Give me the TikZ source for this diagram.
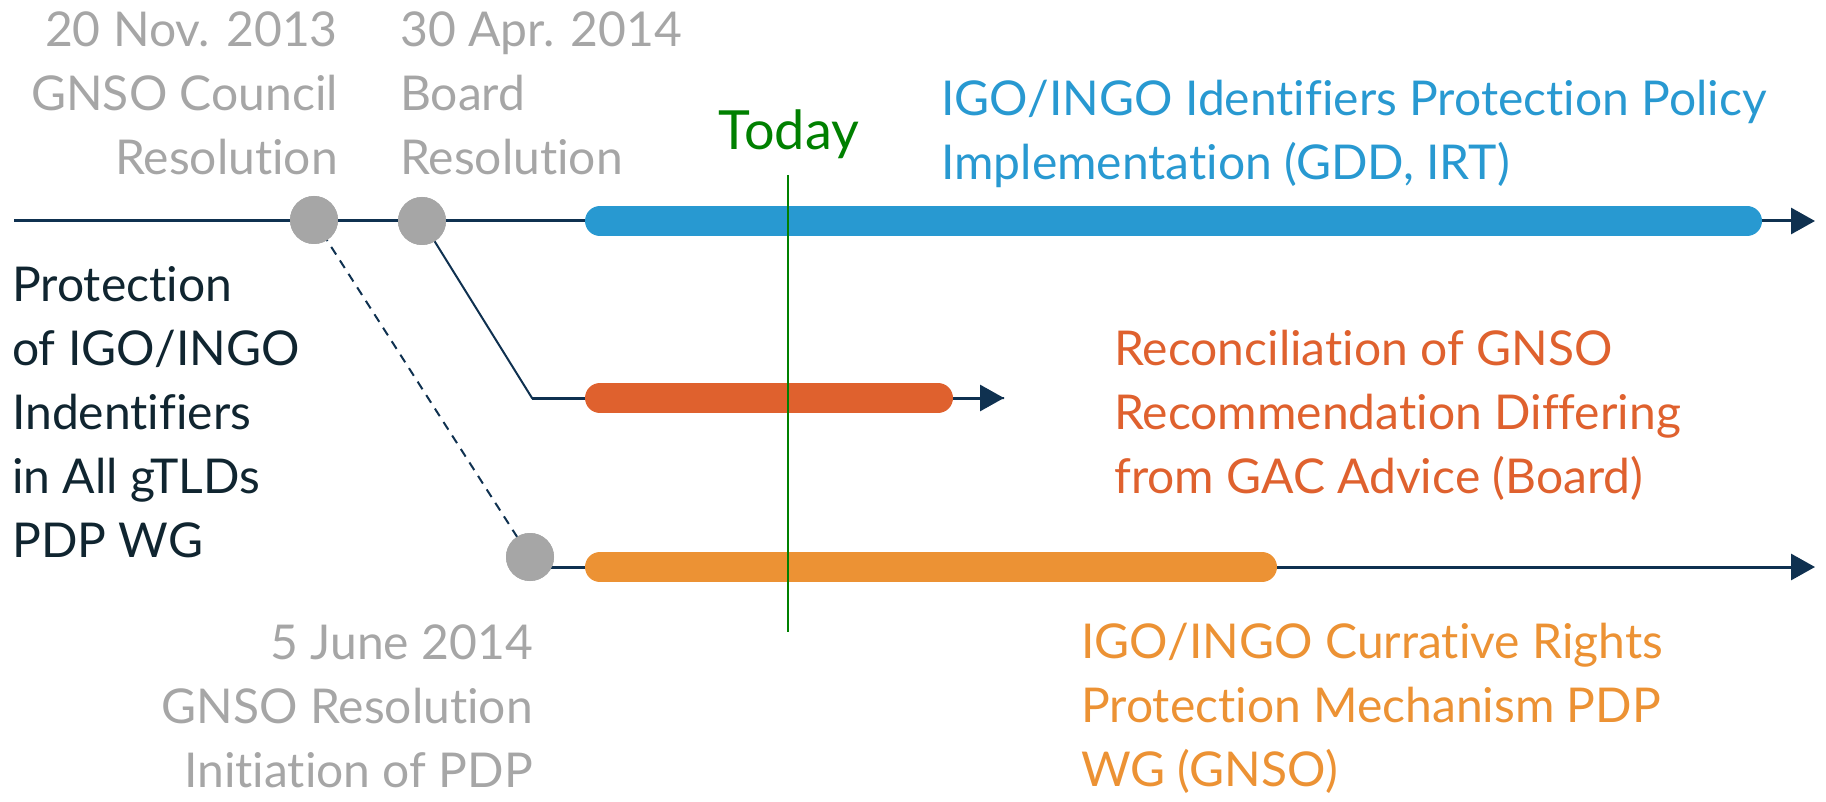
\documentclass[tikz,border=0pt]{standalone}
\usepackage{fontspec}
\setmainfont{Lato}[Ligatures=NoCommon]
\usepackage{tikz}
\usetikzlibrary{arrows.meta}

\definecolor{navy}{HTML}{0F3150}
\definecolor{msgray}{HTML}{A6A6A6}
\definecolor{implblue}{HTML}{2899D1}
\definecolor{recred}{HTML}{DF612E}
\definecolor{crporange}{HTML}{EC9234}
\definecolor{todaygreen}{HTML}{008000}
\definecolor{wgblack}{HTML}{102530}

\tikzset{
  tline/.style={line width=3pt, color=navy},
  tarrow/.style={tline, -{Triangle[length=24pt,width=26pt]}},
  bar/.style={line width=30pt, line cap=round},
  milestone/.style={circle, fill=msgray, minimum size=48pt, inner sep=0pt},
  lbl/.style={inner sep=0pt, font=\fontsize{48}{64}\selectfont},
}

\begin{document}
\begin{tikzpicture}[x=1pt,y=-1pt]
    \useasboundingbox (0,0) rectangle (1826,802);
    % timeline points
    \coordinate (start) at (14,221);
    \coordinate (mainend) at (1815,221);
    \coordinate (bend) at (532,398);
    \coordinate (boardend) at (1004,398);
    \coordinate (crpend) at (1815,567);
    \coordinate (todaytop) at (788,175);
    \coordinate (todaybot) at (788,632);
    \node[milestone] (nov) at (314,220) {};
    \node[milestone] (apr) at (422,221) {};
    \node[milestone] (jun) at (530,557) {};
    % connectors
    \draw[tarrow] (start) -- (mainend);
    \draw[tline, line width=2pt] (apr.center) -- (bend) -- (boardend);
    \draw[tarrow] (bend) -- (boardend);
    \draw[tline, line width=2pt, dashed, dash pattern=on 9pt off 7pt] (nov.center) -- (jun.center);
    \draw[tarrow] (jun |- crpend) -- (crpend);
    % bars
    \draw[bar, implblue] (600,221) -- (1747,221);
    \draw[bar, recred] (600,398) -- (938,398);
    \draw[bar, crporange] (600,567) -- (1262,567);
    \draw[todaygreen, line width=2pt] (todaytop) -- (todaybot);
    \node[milestone] at (nov) {};
    \node[milestone] at (apr) {};
    \node[milestone] at (jun) {};
    % labels (base = last line)
    \node[lbl, msgray, anchor=base east, align=right] (novlbl) at (338,175) {20 Nov. 2013\\GNSO Council\\Resolution};
    \node[lbl, msgray, anchor=base west, align=left] (aprlbl) at (400,175) {30 Apr. 2014\\Board\\Resolution};
    \node[lbl, todaygreen, anchor=base, font=\fontsize{54}{64}\selectfont] (today) at (789,150) {Today};
    \node[lbl, implblue, anchor=base west, align=left] (impllbl) at (941,180) {IGO/INGO Identifiers Protection Policy\\Implementation (GDD, IRT)};
    \node[lbl, wgblack, anchor=base west, align=left] (wglbl) at (12,557) {Protection\\of IGO/INGO\\Indentifiers\\in All gTLDs\\PDP WG};
    \node[lbl, recred, anchor=base west, align=left] (reclbl) at (1114,493) {Reconciliation of GNSO\\Recommendation Differing\\from GAC Advice (Board)};
    \node[lbl, msgray, anchor=base east, align=right] (junlbl) at (533,787) {5 June 2014\\GNSO Resolution\\Initiation of PDP};
    \node[lbl, crporange, anchor=base west, align=left] (crplbl) at (1081,786) {IGO/INGO Currative Rights\\Protection Mechanism PDP\\WG (GNSO)};
\end{tikzpicture}
\end{document}
